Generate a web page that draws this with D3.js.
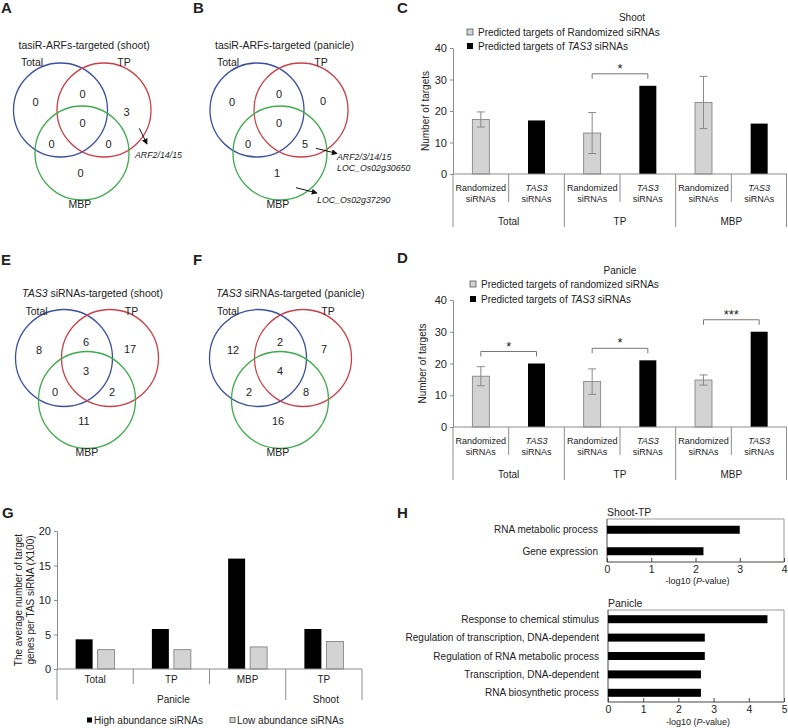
<!DOCTYPE html>
<html><head><meta charset="utf-8">
<script src="https://cdn.jsdelivr.net/npm/d3@7"></script>
<style>
body{margin:0;background:#fff}
text{font-family:"Liberation Sans",Arial,Helvetica,sans-serif;fill:#222}
</style>
</head><body>
<svg id="fig" width="788" height="728" xmlns="http://www.w3.org/2000/svg"></svg>
<script>
// ---------------- DATA ----------------
const vennSets = ["Total", "TP", "MBP"];
// region order: Total only, Total∩TP, TP only, all three, Total∩MBP, TP∩MBP, MBP only
const vennRegions = ["Total", "Total+TP", "TP", "Total+TP+MBP", "Total+MBP", "TP+MBP", "MBP"];
const vennA = [0, 0, 3, 0, 0, 0, 0];
const vennB = [0, 0, 0, 0, 0, 5, 1];
const vennE = [8, 6, 17, 3, 0, 2, 11];
const vennF = [12, 2, 7, 4, 2, 8, 16];

const barGroups = ["Total", "TP", "MBP"];
const barSeries = ["Randomized siRNAs", "TAS3 siRNAs"];
const shootRandom = [17.3, 13.0, 22.7];
const shootRandomErr = [2.4, 6.5, 8.3];
const shootTAS3 = [17, 28, 16];
const shootSig = ["", "*", ""];
const panicleRandom = [16.0, 14.3, 14.8];
const panicleRandomErr = [3.0, 4.0, 1.6];
const panicleTAS3 = [20, 21, 30];
const panicleSig = ["*", "*", "***"];
const targetTicks = [0, 10, 20, 30, 40];

const gCategories = ["Total", "TP", "MBP", "TP"];
const gTissues = ["Panicle", "Panicle", "Panicle", "Shoot"];
const gHigh = [4.3, 5.8, 16.0, 5.8];
const gLow = [2.8, 2.8, 3.2, 4.0];
const gSeries = ["High abundance siRNAs", "Low abundance siRNAs"];
const gTicks = [0, 5, 10, 15, 20];

const hShootTerms = ["RNA metabolic process", "Gene expression"];
const hShootValues = [3.0, 2.18];
const hShootTicks = [0, 1, 2, 3, 4];
const hPanicleTerms = ["Response to chemical stimulus", "Regulation of transcription, DNA-dependent",
  "Regulation of RNA metabolic process", "Transcription, DNA-dependent", "RNA biosynthetic process"];
const hPanicleValues = [4.53, 2.75, 2.75, 2.64, 2.64];
const hPanicleTicks = [0, 1, 2, 3, 4, 5];

// ---------------- HELPERS ----------------
const FONT = '"Liberation Sans", Arial, Helvetica, sans-serif';
const svg = d3.select("#fig");
const INK = "#222", AXIS = "#8c8c8c", GRAYBAR = "#d3d3d3";
const BLUE = "#3b4fa3", RED = "#c9404a", GREEN = "#3faa4b";

svg.append("defs").append("marker").attr("id", "arr").attr("viewBox", "0 0 8 8")
  .attr("refX", 7).attr("refY", 4).attr("markerWidth", 6).attr("markerHeight", 6)
  .attr("orient", "auto").attr("markerUnits", "userSpaceOnUse")
  .append("path").attr("d", "M0,0 L8,4 L0,8 z").attr("fill", "#111");

function rich(x, y, parts, size, anchor) {
  const t = svg.append("text").attr("x", x).attr("y", y).attr("dy", "0.35em")
    .attr("font-size", size).attr("text-anchor", anchor || "start");
  parts.forEach(p => {
    const s = t.append("tspan").text(p[0]);
    if (p[1]) s.attr("font-style", "italic");
  });
  return t;
}
function txt(x, y, s, size, anchor, italic) { return rich(x, y, [[s, italic]], size, anchor); }

// panel letters
[["A", 1, 8], ["B", 193, 8], ["C", 397, 8], ["D", 397, 258], ["E", 1, 260], ["F", 193, 260], ["G", 2, 513], ["H", 397, 513]]
  .forEach(d => txt(d[1], d[2], d[0], 15, "start").attr("font-weight", "bold").attr("fill", "#000"));

// ---------------- VENN ----------------
const regionOffsets = [[-25, -8], [22, -16], [66, -9], [22, 13], [-9, 34], [48, 34], [20, 63]];
function venn(o) {
  const circ = [[0, 0, BLUE], [o.dxR, 0, RED], [o.gx, o.gy, GREEN]];
  vennSets.forEach((s, i) => {
    svg.append("circle").attr("cx", o.cx + circ[i][0]).attr("cy", o.cy + circ[i][1]).attr("r", o.r)
      .attr("fill", "none").attr("stroke", circ[i][2]).attr("stroke-width", 1.3);
  });
  rich(o.cx - 42, o.cy - 65, o.title, 10.5, "start");
  txt(o.cx + o.setPos[0][0], o.cy + o.setPos[0][1], vennSets[0], 10.5, "middle");
  txt(o.cx + o.setPos[1][0], o.cy + o.setPos[1][1], vennSets[1], 10.5, "middle");
  txt(o.cx + o.setPos[2][0], o.cy + o.setPos[2][1], vennSets[2], 10.5, "middle");
  vennRegions.forEach((r, i) => {
    const off = (o.override && o.override[i]) || regionOffsets[i];
    txt(o.cx + off[0], o.cy + off[1], String(o.counts[i]), 11, "middle");
  });
}
function arrow(x1, y1, x2, y2) {
  svg.append("line").attr("x1", x1).attr("y1", y1).attr("x2", x2).attr("y2", y2)
    .attr("stroke", "#111").attr("stroke-width", 1).attr("marker-end", "url(#arr)");
}

venn({cx: 60.5, cy: 110, r: 47, dxR: 43.5, gx: 21.5, gy: 43, counts: vennA,
  title: [["tasiR-ARFs-targeted (shoot)", false]],
  setPos: [[-28.5, -48], [63.5, -48], [19.5, 94]], override: {2: [66, 2]}});
arrow(139.3, 128.3, 147, 144);
txt(135, 155, "ARF2/14/15", 8.8, "start", true);

venn({cx: 257, cy: 110, r: 47, dxR: 44, gx: 23, gy: 43, counts: vennB,
  title: [["tasiR-ARFs-targeted (panicle)", false]],
  setPos: [[-29, -48], [64, -48], [21, 94]]});
arrow(316, 148.3, 337, 153.5);
txt(337, 157, "ARF2/3/14/15", 8.8, "start", true);
txt(337, 168.3, "LOC_Os02g30650", 8.8, "start", true);
arrow(296, 187.7, 317, 193);
txt(317, 200, "LOC_Os02g37290", 8.8, "start", true);

venn({cx: 64, cy: 358, r: 48.5, dxR: 46, gx: 23, gy: 42, counts: vennE,
  title: [["TAS3", true], [" siRNAs-targeted (shoot)", false]],
  setPos: [[-27.5, -47], [67.5, -47], [23, 94]]});
venn({cx: 258, cy: 358, r: 48.5, dxR: 45, gx: 22, gy: 42, counts: vennF,
  title: [["TAS3", true], [" siRNAs-targeted (panicle)", false]],
  setPos: [[-30, -47], [70, -47], [20, 94]]});

// ---------------- C / D BAR CHARTS ----------------
function styleAxis(ax, size) {
  ax.attr("font-family", FONT).attr("color", AXIS);
  ax.selectAll("text").attr("font-size", size).attr("fill", INK);
}
function targetPanel(o) {
  const x0 = d3.scaleBand().domain(barGroups).range([o.xl, o.xr]);
  const x1 = d3.scaleBand().domain(barSeries).range([0, x0.bandwidth()]);
  const y = d3.scaleLinear().domain([0, 40]).range([o.y0, o.yTop]);
  const BW = 17;
  const cx = (grp, s) => x0(grp) + x1(s) + x1.bandwidth() / 2;
  const rows = barGroups.map((grp, i) => ({grp, rand: o.rand[i], err: o.err[i], tas: o.tas[i], sig: o.sig[i]}));

  const ax = svg.append("g").attr("transform", `translate(${o.xl},0)`)
    .call(d3.axisLeft(y).tickValues(targetTicks).tickFormat(d3.format("d")).tickSize(3).tickSizeOuter(0).tickPadding(3));
  styleAxis(ax, 11);

  svg.append("text").attr("transform", `translate(${o.ylabX},${(o.y0 + o.yTop) / 2}) rotate(-90)`)
    .attr("text-anchor", "middle").attr("dy", "0.35em").attr("font-size", 10).text("Number of targets");

  // bars
  svg.selectAll(null).data(rows).join("rect")
    .attr("x", d => cx(d.grp, barSeries[0]) - BW / 2).attr("width", BW)
    .attr("y", d => y(d.rand)).attr("height", d => y(0) - y(d.rand))
    .attr("fill", GRAYBAR).attr("stroke", "#7a7a7a").attr("stroke-width", 0.8);
  svg.selectAll(null).data(rows).join("rect")
    .attr("x", d => cx(d.grp, barSeries[1]) - BW / 2).attr("width", BW)
    .attr("y", d => y(d.tas)).attr("height", d => y(0) - y(d.tas))
    .attr("fill", "#000");
  // error bars
  rows.forEach(d => {
    const x = cx(d.grp, barSeries[0]);
    const g = svg.append("g").attr("stroke", "#8a8a8a").attr("stroke-width", 1);
    g.append("line").attr("x1", x).attr("x2", x).attr("y1", y(d.rand - d.err)).attr("y2", y(d.rand + d.err));
    [d.rand - d.err, d.rand + d.err].forEach(v =>
      g.append("line").attr("x1", x - 4).attr("x2", x + 4).attr("y1", y(v)).attr("y2", y(v)));
  });
  // significance brackets
  rows.filter(d => d.sig).forEach(d => {
    const xa = cx(d.grp, barSeries[0]), xb = cx(d.grp, barSeries[1]);
    const by = y(Math.max(d.rand + d.err, d.tas)) - 12;
    svg.append("path").attr("d", `M${xa},${by + 5}V${by}H${xb}V${by + 5}`)
      .attr("fill", "none").attr("stroke", "#777").attr("stroke-width", 1);
    svg.append("text").attr("x", (xa + xb) / 2).attr("y", by - 1).attr("text-anchor", "middle")
      .attr("font-size", 13).text(d.sig);
  });
  // x axis
  svg.append("line").attr("x1", o.xl).attr("x2", o.xr).attr("y1", o.y0).attr("y2", o.y0).attr("stroke", AXIS);
  barGroups.forEach(grp => {
    const xs = x0(grp) + x1.bandwidth();
    svg.append("line").attr("x1", xs).attr("x2", xs).attr("y1", o.y0).attr("y2", o.y0 + 28).attr("stroke", AXIS);
    svg.append("line").attr("x1", x0(grp)).attr("x2", x0(grp)).attr("y1", o.y0).attr("y2", o.y0 + 53).attr("stroke", AXIS);
    txt(cx(grp, barSeries[0]), o.y0 + 14, "Randomized", 9, "middle");
    txt(cx(grp, barSeries[0]), o.y0 + 25, "siRNAs", 9, "middle");
    txt(cx(grp, barSeries[1]), o.y0 + 14, "TAS3", 9, "middle", true);
    txt(cx(grp, barSeries[1]), o.y0 + 25, "siRNAs", 9, "middle");
    txt(x0(grp) + x0.bandwidth() / 2, o.y0 + 47, grp, 10, "middle");
  });
  svg.append("line").attr("x1", o.xr - 0.5).attr("x2", o.xr - 0.5).attr("y1", o.y0).attr("y2", o.y0 + 53).attr("stroke", AXIS);
  // title + legend
  txt(o.titleX, o.titleY, o.title, 10, "middle");
  svg.append("rect").attr("x", o.legX).attr("y", o.legY1 - 3).attr("width", 6).attr("height", 6)
    .attr("fill", GRAYBAR).attr("stroke", "#555").attr("stroke-width", 0.8);
  rich(o.legX + 11, o.legY1, [["Predicted targets of " + o.randWord + " siRNAs", false]], 10);
  svg.append("rect").attr("x", o.legX).attr("y", o.legY2 - 3).attr("width", 6).attr("height", 6).attr("fill", "#000");
  rich(o.legX + 11, o.legY2, [["Predicted targets of ", false], ["TAS3", true], [" siRNAs", false]], 10);
}

targetPanel({xl: 453, xr: 787, y0: 174, yTop: 48, ylabX: 425, rand: shootRandom, err: shootRandomErr,
  tas: shootTAS3, sig: shootSig, title: "Shoot", titleX: 632, titleY: 17, legX: 467, legY1: 32, legY2: 46,
  randWord: "Randomized"});
targetPanel({xl: 453, xr: 787, y0: 427, yTop: 300, ylabX: 422, rand: panicleRandom, err: panicleRandomErr,
  tas: panicleTAS3, sig: panicleSig, title: "Panicle", titleX: 620, titleY: 270, legX: 470, legY1: 284, legY2: 299,
  randWord: "randomized"});

// ---------------- G ----------------
(function () {
  const xl = 57, xr = 362, y0 = 669;
  const idx = gCategories.map((c, i) => i);
  const x = d3.scaleBand().domain(idx).range([xl, xr]);
  const y = d3.scaleLinear().domain([0, 20]).range([y0, 531]);
  const BW = 17;
  const ax = svg.append("g").attr("transform", `translate(${xl},0)`)
    .call(d3.axisLeft(y).tickValues(gTicks).tickFormat(d3.format("d")).tickSize(3).tickSizeOuter(0).tickPadding(3));
  styleAxis(ax, 11);
  const rows = idx.map(i => ({i, hi: gHigh[i], lo: gLow[i]}));
  svg.selectAll(null).data(rows).join("rect")
    .attr("x", d => x(d.i) + x.bandwidth() / 2 - 11 - BW / 2).attr("width", BW)
    .attr("y", d => y(d.hi)).attr("height", d => y(0) - y(d.hi)).attr("fill", "#000");
  svg.selectAll(null).data(rows).join("rect")
    .attr("x", d => x(d.i) + x.bandwidth() / 2 + 11 - BW / 2).attr("width", BW)
    .attr("y", d => y(d.lo)).attr("height", d => y(0) - y(d.lo))
    .attr("fill", GRAYBAR).attr("stroke", "#7a7a7a").attr("stroke-width", 0.8);
  svg.append("line").attr("x1", xl).attr("x2", xr).attr("y1", y0).attr("y2", y0).attr("stroke", AXIS);
  idx.forEach(i => {
    const long = i === 0 || gTissues[i] !== gTissues[i - 1];
    svg.append("line").attr("x1", x(i)).attr("x2", x(i)).attr("y1", y0).attr("y2", y0 + (long ? 31 : 15)).attr("stroke", AXIS);
    txt(x(i) + x.bandwidth() / 2, y0 + 10, gCategories[i], 10, "middle");
  });
  svg.append("line").attr("x1", xr).attr("x2", xr).attr("y1", y0).attr("y2", y0 + 31).attr("stroke", AXIS);
  const tissues = Array.from(new Set(gTissues));
  tissues.forEach(t => {
    const ii = idx.filter(i => gTissues[i] === t);
    const a = x(ii[0]), b = x(ii[ii.length - 1]) + x.bandwidth();
    txt((a + b) / 2 + 2, y0 + 30, t, 10, "middle");
  });
  const yl = svg.append("text").attr("transform", `translate(18,600) rotate(-90)`).attr("text-anchor", "middle").attr("font-size", 10);
  yl.append("tspan").attr("x", 0).attr("dy", "0.35em").text("The average number of target");
  yl.append("tspan").attr("x", 0).attr("dy", "1.2em").text("genes per TAS siRNA (X100)");
  // legend
  svg.append("rect").attr("x", 87).attr("y", 717.5).attr("width", 5).attr("height", 5).attr("fill", "#000");
  txt(94, 720, gSeries[0], 10, "start");
  svg.append("rect").attr("x", 230).attr("y", 717.5).attr("width", 5).attr("height", 5)
    .attr("fill", GRAYBAR).attr("stroke", "#555").attr("stroke-width", 0.8);
  txt(237, 720, gSeries[1], 10, "start");
})();

// ---------------- H ----------------
function goChart(o) {
  const x = d3.scaleLinear().domain([0, o.ticks[o.ticks.length - 1]]).range([o.x0, o.x1]);
  const y = d3.scaleBand().domain(o.terms).range([o.yt, o.yb]);
  // frame
  svg.append("path").attr("d", `M${o.x0},${o.yt}H${o.x1}V${o.yb}`).attr("fill", "none").attr("stroke", "#9a9a9a");
  svg.append("path").attr("d", `M${o.x0},${o.yt}V${o.yb}H${o.x1}`).attr("fill", "none").attr("stroke", "#444");
  svg.selectAll(null).data(o.terms.map((t, i) => ({t, v: o.values[i]}))).join("rect")
    .attr("x", o.x0).attr("width", d => x(d.v) - o.x0)
    .attr("y", d => y(d.t) + y.bandwidth() / 2 - 4).attr("height", 8).attr("fill", "#000");
  const ax = svg.append("g").attr("transform", `translate(0,${o.yb})`)
    .call(d3.axisBottom(x).tickValues(o.ticks).tickFormat(d3.format("d")).tickSizeInner(-4).tickSizeOuter(0).tickPadding(4));
  ax.attr("font-family", FONT).attr("color", "#444");
  ax.select(".domain").remove();
  ax.selectAll("text").attr("font-size", 10.5).attr("fill", INK);
  ax.selectAll(".tick").filter(d => d === o.ticks[o.ticks.length - 1]).select("text").attr("text-anchor", "end").attr("dx", "0.3em");
  o.terms.forEach(t => txt(o.labelX, y(t) + y.bandwidth() / 2, t, 10, "end"));
  txt(o.x0, o.titleY, o.title, 10.5, "start");
  rich((o.x0 + o.x1) / 2 + 2, o.xlabY, [["-log10 (", false], ["P", true], ["-value)", false]], 9, "middle");
}
goChart({terms: hShootTerms, values: hShootValues, ticks: hShootTicks, x0: 607, x1: 784, yt: 519, yb: 562,
  labelX: 598, title: "Shoot-TP", titleY: 512, xlabY: 581});
goChart({terms: hPanicleTerms, values: hPanicleValues, ticks: hPanicleTicks, x0: 608, x1: 784, yt: 610, yb: 702,
  labelX: 599, title: "Panicle", titleY: 603, xlabY: 722});
</script>
</body></html>
